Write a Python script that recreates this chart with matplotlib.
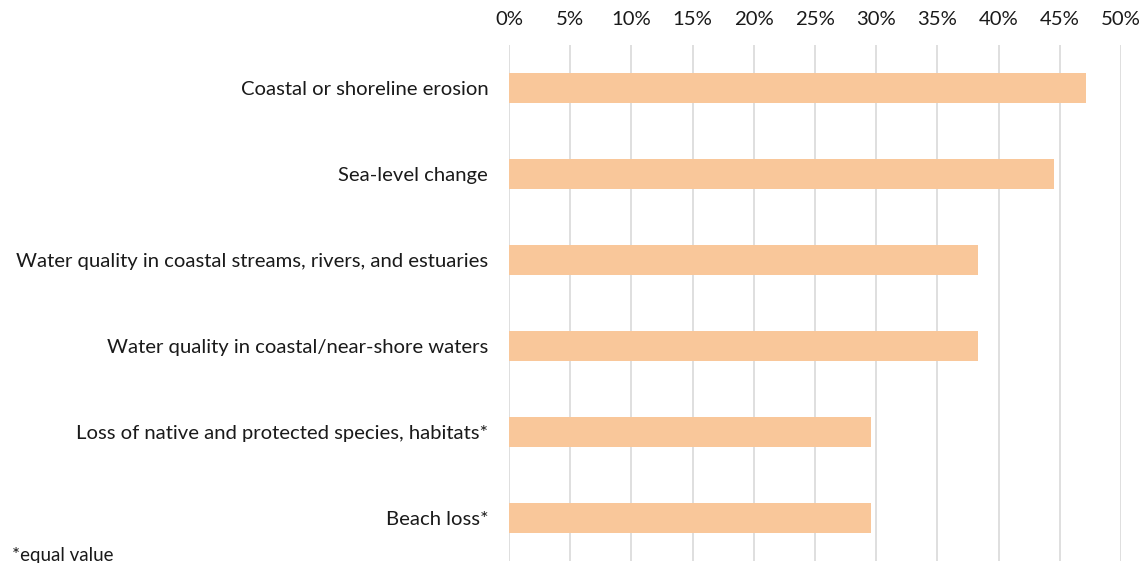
import matplotlib
matplotlib.use("Agg")
import matplotlib.pyplot as plt
from matplotlib.ticker import FuncFormatter

categories = [
    "Coastal or shoreline erosion",
    "Sea-level change",
    "Water quality in coastal streams, rivers, and estuaries",
    "Water quality in coastal/near-shore waters",
    "Loss of native and protected species, habitats*",
    "Beach loss*",
]
values = [47.1, 44.5, 38.3, 38.3, 29.6, 29.6]
xticks = [0, 5, 10, 15, 20, 25, 30, 35, 40, 45, 50]
footnote = "*equal value"

plt.rcParams['font.family'] = ['Lato', 'DejaVu Sans']

W, H = 1146, 563
fig = plt.figure(figsize=(W / 100, H / 100), dpi=100)
left, right, top, bottom = 509 / W, 1121 / W, 45 / H, 561 / H
ax = fig.add_axes([left, 1 - bottom, right - left, bottom - top])

y = list(range(len(categories)))
ax.barh(y, values, height=0.36, color="#F9C79A", zorder=2)
ax.set_ylim(len(categories) - 0.5, -0.5)
ax.set_xlim(0, 50)
ax.set_yticks(y)
ax.set_yticklabels(categories, fontsize=14.6, color="#1a1a1a")
ax.set_xticks(xticks)
ax.xaxis.set_major_formatter(FuncFormatter(lambda v, p: f"{int(v)}%"))
ax.xaxis.tick_top()
ax.tick_params(axis='x', length=0, pad=12, labelsize=14.6, labelcolor="#1a1a1a")
ax.tick_params(axis='y', length=0, pad=15)
ax.grid(axis='x', color="#d9d9d9", linewidth=1.2, zorder=0)
ax.set_axisbelow(True)
for s in ax.spines.values():
    s.set_visible(False)

fig.text(12 / W, 1 - 556 / H, footnote, fontsize=13.5, color="#1a1a1a", va='center', ha='left')

fig.savefig("out.png", dpi=100)
